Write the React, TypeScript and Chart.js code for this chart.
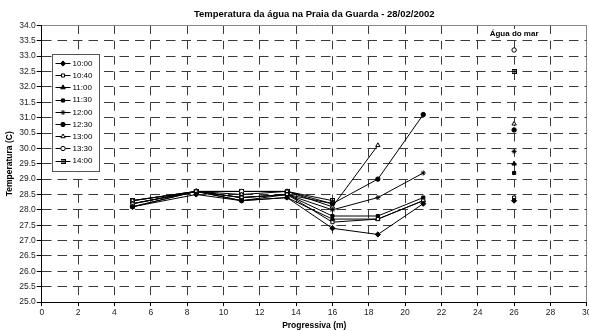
import React, { useEffect, useRef } from 'react';
import { Chart, registerables } from 'chart.js';
import { drawPoint } from 'chart.js/helpers';

Chart.register(...registerables);

// ---- Data ----
const chartTitle = 'Temperatura da água na Praia da Guarda - 28/02/2002';
const xTitle = 'Progressiva (m)';
const yTitle = 'Temperatura (C)';
const seaLabel = 'Água do mar';

const positions = [5, 8.5, 11, 13.5, 16, 18.5, 21, 26];
const seriesNames = ['10:00', '10:40', '11:00', '11:30', '12:00', '12:30', '13:00', '13:30', '14:00'];

const t1000 = [28.1, 28.5, 28.3, 28.4, 27.4, 27.2, 28.2, 28.3];
const t1040 = [28.2, 28.6, 28.4, 28.5, 27.6, 27.7, 28.3, 28.4];
const t1100 = [28.1, 28.6, 28.3, 28.4, 27.7, 27.7, 28.3, 29.5];
const t1130 = [28.2, 28.6, 28.3, 28.5, 27.8, 27.8, 28.4, 29.2];
const t1200 = [28.2, 28.6, 28.4, 28.5, 28.0, 28.4, 29.2, 29.9];
const t1230 = [28.1, 28.6, 28.4, 28.5, 28.2, 29.0, 31.1, 30.6];
const t1300 = [28.3, 28.6, 28.5, 28.6, 28.1, 30.1, null, 30.8];
const t1330 = [28.3, 28.6, 28.6, 28.6, 28.2, null, null, 33.2];
const t1400 = [28.3, 28.6, 28.6, 28.6, 28.3, null, null, 32.5];

const seriesValues = [t1000, t1040, t1100, t1130, t1200, t1230, t1300, t1330, t1400];

const xMin = 0, xMax = 30, xStep = 2;
const yMin = 25, yMax = 34, yStep = 0.5;

const FONT = "'Liberation Sans', Arial, Helvetica, sans-serif";

function makeBoxPlus(): HTMLCanvasElement {
  const c = document.createElement('canvas');
  c.width = 5; c.height = 5;
  const g = c.getContext('2d')!;
  g.fillStyle = '#fff';
  g.fillRect(0, 0, 5, 5);
  g.strokeStyle = '#000';
  g.lineWidth = 1;
  g.strokeRect(0.5, 0.5, 4, 4);
  g.beginPath();
  g.moveTo(2.5, 0); g.lineTo(2.5, 5);
  g.moveTo(0, 2.5); g.lineTo(5, 2.5);
  g.stroke();
  return c;
}

type MarkerStyle = { pointStyle: any; radius: number; fill: string };

function markerStyles(): MarkerStyle[] {
  return [
    { pointStyle: 'rectRot', radius: 2.6, fill: '#000' },
    { pointStyle: 'rect', radius: 2.2, fill: '#fff' },
    { pointStyle: 'triangle', radius: 2.6, fill: '#000' },
    { pointStyle: 'rect', radius: 2.2, fill: '#000' },
    { pointStyle: 'star', radius: 2.5, fill: '#000' },
    { pointStyle: 'circle', radius: 2.2, fill: '#000' },
    { pointStyle: 'triangle', radius: 2.5, fill: '#fff' },
    { pointStyle: 'circle', radius: 2.2, fill: '#fff' },
    { pointStyle: makeBoxPlus(), radius: 2.5, fill: '#fff' },
  ];
}

const legendPlugin = {
  id: 'boxLegend',
  afterDraw(chart: any) {
    const { ctx, chartArea } = chart;
    const x0 = Math.round(chartArea.left + 10) + 0.5;
    const y0 = Math.round(chartArea.top + 29) + 0.5;
    const w = 47;
    const rowH = 12.2;
    const h = 117;
    ctx.save();
    ctx.fillStyle = '#fff';
    ctx.fillRect(x0, y0, w, h);
    ctx.strokeStyle = '#555';
    ctx.lineWidth = 1;
    ctx.strokeRect(x0, y0, w, h);
    ctx.font = `8px ${FONT}`;
    ctx.textBaseline = 'middle';
    ctx.textAlign = 'left';
    chart.data.datasets.forEach((ds: any, i: number) => {
      const y = y0 + 8.5 + i * rowH;
      ctx.strokeStyle = '#000';
      ctx.lineWidth = 1;
      ctx.beginPath();
      ctx.moveTo(x0 + 3, Math.round(y) + 0.5);
      ctx.lineTo(x0 + 18, Math.round(y) + 0.5);
      ctx.stroke();
      ctx.fillStyle = ds.pointBackgroundColor;
      ctx.strokeStyle = '#000';
      drawPoint(ctx, { pointStyle: ds.pointStyle, radius: ds.pointRadius, borderWidth: 1, rotation: 0 } as any, x0 + 10.5, Math.round(y) + 0.5);
      ctx.fillStyle = '#000';
      ctx.fillText(ds.label, x0 + 20, y + 0.5);
    });
    ctx.restore();
  },
};

const seaLabelPlugin = {
  id: 'seaLabel',
  afterDraw(chart: any) {
    const { ctx, chartArea } = chart;
    const xs = chart.scales.x;
    const x = xs.getPixelForValue(positions[positions.length - 1]);
    const y = chartArea.top + 8.5;
    ctx.save();
    ctx.font = `bold 8px ${FONT}`;
    const tw = ctx.measureText(seaLabel).width;
    ctx.fillStyle = '#fff';
    ctx.fillRect(x - tw / 2 - 2, y - 5, tw + 4, 10);
    ctx.fillStyle = '#000';
    ctx.textAlign = 'center';
    ctx.textBaseline = 'middle';
    ctx.fillText(seaLabel, x, y);
    ctx.restore();
  },
};

export default function App() {
  const ref = useRef<HTMLCanvasElement | null>(null);

  useEffect(() => {
    if (!ref.current) return;
    const styles = markerStyles();
    const lastIdx = positions.length - 1;
    const datasets = seriesNames.map((name, i) => ({
      label: name,
      data: positions.map((x, j) => ({ x, y: seriesValues[i][j] })),
      borderColor: '#000',
      borderWidth: 1,
      pointStyle: styles[i].pointStyle,
      pointRadius: styles[i].radius,
      pointBackgroundColor: styles[i].fill,
      pointBorderColor: '#000',
      pointBorderWidth: 1,
      spanGaps: false,
      fill: false,
      tension: 0,
      segment: {
        borderColor: (c: any) => (c.p1DataIndex === lastIdx ? 'rgba(0,0,0,0)' : undefined),
      },
    }));

    const chart = new Chart(ref.current, {
      type: 'line',
      data: { datasets },
      options: {
        responsive: false,
        animation: false,
        layout: { padding: { left: 2, right: 0, top: 0, bottom: 0 } },
        plugins: {
          legend: { display: false },
          tooltip: { enabled: false },
          title: {
            display: true,
            text: chartTitle,
            fullSize: false,
            color: '#000',
            font: { family: FONT, size: 9.5, weight: 'bold' },
            padding: { top: 8.5, bottom: 5.5 },
          },
        },
        scales: {
          x: {
            type: 'linear',
            min: xMin,
            max: xMax,
            ticks: {
              stepSize: xStep,
              color: '#222',
              font: { family: FONT, size: 8.5 },
              padding: 1.5,
              maxRotation: 0,
              autoSkip: false,
            },
            grid: {
              color: (c: any) => (c.tick && c.tick.value === xMax ? '#888' : '#3a3a3a'),
              lineWidth: 1,
              tickLength: 4,
              tickColor: '#000',
            },
            border: {
              display: true,
              color: '#000',
              width: 1,
              dash: (c: any) => {
                if (!c.tick || c.tick.value === xMax) return [];
                const h = c.chart.chartArea ? c.chart.chartArea.height / ((yMax - yMin) / yStep) : 15.3;
                return [h * 0.55, h * 0.45];
              },
            },
            title: {
              display: true,
              text: xTitle,
              color: '#000',
              font: { family: FONT, size: 8.5, weight: 'bold' },
              padding: { top: 1.5, bottom: 0 },
            },
          },
          y: {
            type: 'linear',
            min: yMin,
            max: yMax,
            ticks: {
              stepSize: yStep,
              color: '#222',
              font: { family: FONT, size: 8.5 },
              padding: 1,
              autoSkip: false,
              callback: (v: any) => Number(v).toFixed(1),
            },
            grid: {
              color: (c: any) => (c.tick && c.tick.value === yMax ? '#888' : '#3a3a3a'),
              lineWidth: 1,
              tickLength: 5,
              tickColor: '#000',
            },
            border: {
              display: true,
              color: '#000',
              width: 1,
              dash: (c: any) => (!c.tick || c.tick.value === yMax ? [] : [9.5, 6]),
            },
            title: {
              display: true,
              text: yTitle,
              color: '#000',
              font: { family: FONT, size: 8.5, weight: 'bold' },
              padding: { top: 3, bottom: 3 },
            },
          },
        },
      },
      plugins: [legendPlugin, seaLabelPlugin],
    } as any);

    return () => chart.destroy();
  }, []);

  return (
    <div style={{ position: 'fixed', left: 0, top: 0, width: 589, height: 331, overflow: 'hidden', background: '#fff' }}>
      <canvas ref={ref} width={593} height={331} style={{ display: 'block', width: 593, height: 331 }} />
    </div>
  );
}
